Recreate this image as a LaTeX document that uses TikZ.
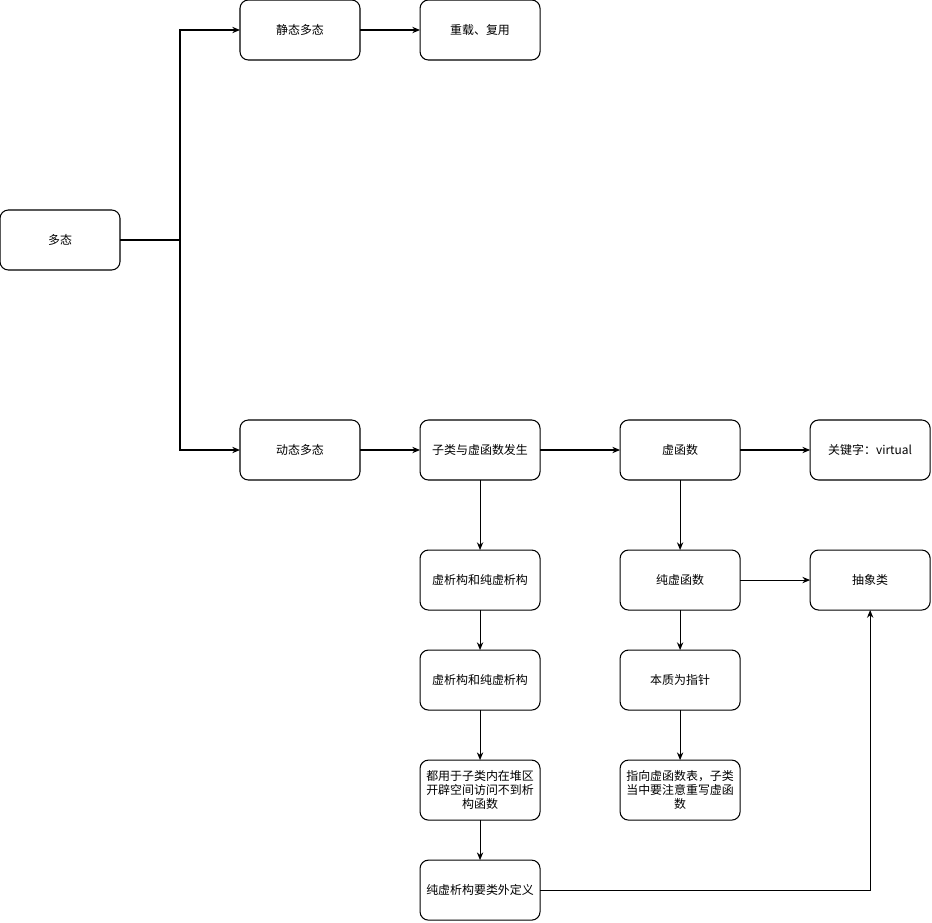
\documentclass[tikz,border=0pt]{standalone}
\usepackage{fontspec}
\setmainfont{Noto Sans CJK SC}
\usetikzlibrary{positioning, arrows.meta}
\tikzset{
  stepbox/.style={
    draw, line width=0.75pt, rounded corners=6pt, outer sep=0pt,
    minimum width=3cm, minimum height=1.5cm,
    font=\fontsize{8.5}{10}\selectfont, align=center, fill=white
  },
  flow/.style={-{Stealth[length=5.5pt,width=4.5pt]}, line width=0.75pt},
  link/.style={line width=0.75pt},
}

\begin{document}
\begin{tikzpicture}[x=0.025cm, y=-0.025cm]
  \useasboundingbox (0,0) rectangle (932,922);

  % left side
  \node[stepbox] (poly) at (60,240) {多态};
  \node[stepbox] (stat) at (300,30) {静态多态};
  \node[stepbox, right=1.5cm of stat] (reuse) {重载、复用};
  \node[stepbox] (dyn) at (300,450) {动态多态};

  % dynamic chain
  \node[stepbox, right=1.5cm of dyn] (sub) {子类与虚函数发生};
  \node[stepbox, right=2cm of sub] (vfun) {虚函数};
  \node[stepbox, right=1.75cm of vfun] (key) {关键字：virtual};

  \node[stepbox, below=1.75cm of sub] (vdt1) {虚析构和纯虚析构};
  \node[stepbox, below=1cm of vdt1] (vdt2) {虚析构和纯虚析构};
  \node[stepbox, below=1.25cm of vdt2] (heap) {都用于子类内在堆区\\开辟空间访问不到析\\构函数};
  \node[stepbox, below=1cm of heap] (pdt) {纯虚析构要类外定义};

  \node[stepbox, below=1.75cm of vfun] (pure) {纯虚函数};
  \node[stepbox, below=1.75cm of key] (abs) {抽象类};
  \node[stepbox, below=1cm of pure] (ptr) {本质为指针};
  \node[stepbox, below=1.25cm of ptr] (vtab) {指向虚函数表，子类\\当中要注意重写虚函\\数};

  \coordinate (fork) at (180,240);
  \draw[link] (poly.east) -- (fork);
  \draw[flow] (fork) |- (stat.west);
  \draw[flow] (fork) |- (dyn.west);
  \draw[flow] (stat) -- (reuse);

  \draw[flow] (dyn) -- (sub);
  \draw[flow] (sub) -- (vfun);
  \draw[flow] (vfun) -- (key);
  \draw[flow] (sub) -- (vdt1);
  \draw[flow] (vdt1) -- (vdt2);
  \draw[flow] (vdt2) -- (heap);
  \draw[flow] (heap) -- (pdt);
  \draw[flow] (vfun) -- (pure);
  \draw[flow] (pure) -- (abs);
  \draw[flow] (pure) -- (ptr);
  \draw[flow] (ptr) -- (vtab);
  \draw[flow] (pdt.east) -| (abs.south);
\end{tikzpicture}
\end{document}
